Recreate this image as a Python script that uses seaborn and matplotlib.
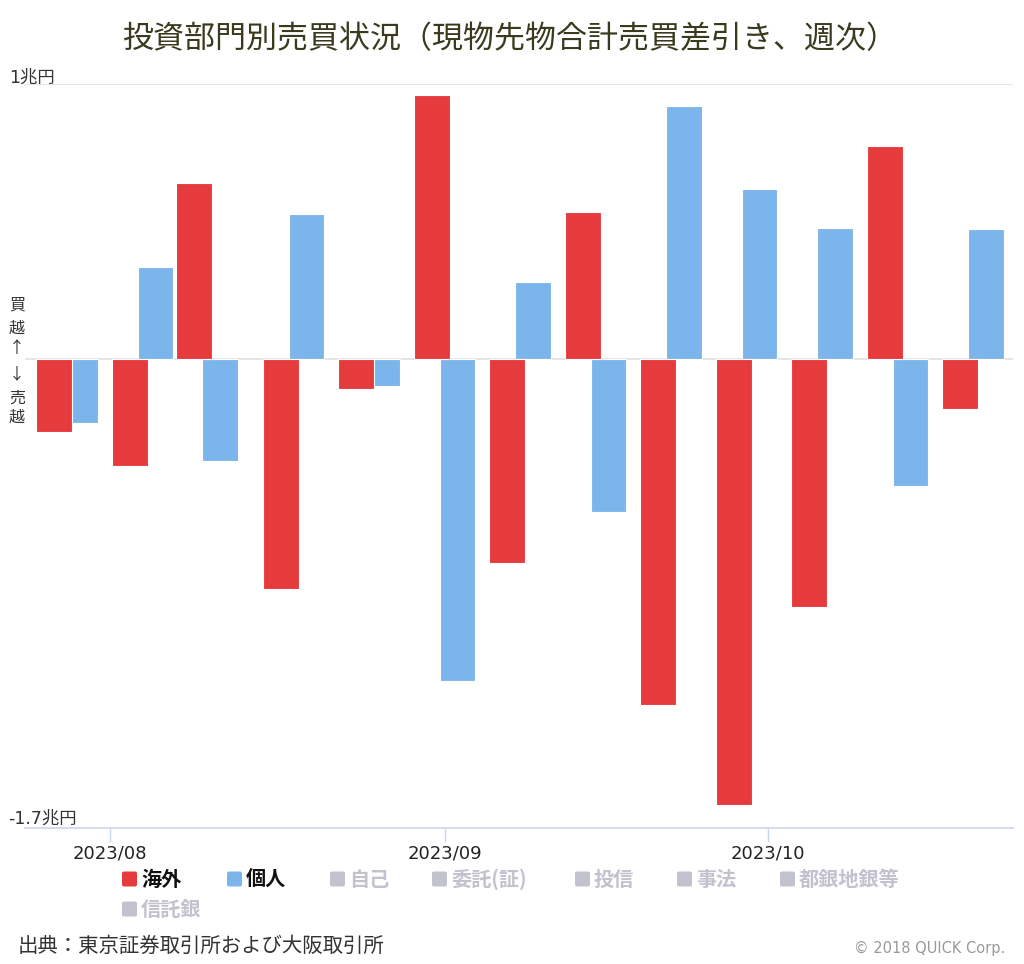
import numpy as np
import pandas as pd
import matplotlib
matplotlib.use("Agg")
import matplotlib.pyplot as plt
import matplotlib.dates as mdates
from matplotlib.patches import FancyBboxPatch
import seaborn as sns

sns.set_theme(style="white")
plt.rcParams['font.family'] = ['Noto Sans CJK JP', 'DejaVu Sans']

# 週次（週末日付）、単位：兆円
weeks = ['2023-07-28', '2023-08-04', '2023-08-10', '2023-08-18', '2023-08-25',
         '2023-09-01', '2023-09-08', '2023-09-15', '2023-09-22', '2023-09-29',
         '2023-10-06', '2023-10-13', '2023-10-20']
overseas = [-0.263, -0.388, 0.641, -0.833, -0.109, 0.960, -0.739,
            0.535, -1.254, -1.617, -0.898, 0.775, -0.180]
individual = [-0.232, 0.337, -0.368, 0.528, -0.096, -1.167, 0.281,
              -0.554, 0.920, 0.617, 0.477, -0.459, 0.474]

series_names = ['海外', '個人']
series_colors = ['#e63b3d', '#7cb5ec']
hidden_names = ['自己', '委託(証)', '投信', '事法', '都銀地銀等', '信託銀']

title = '投資部門別売買状況（現物先物合計売買差引き、週次）'
source = '出典：東京証券取引所および大阪取引所'
credit = '© 2018 QUICK Corp.'

W, H = 1024, 964
latin_first = ['DejaVu Sans', 'Noto Sans CJK JP']


def fx(x):
    return x / W


def fy(y):
    return 1 - y / H


# ---- data frame (two series, shifted a bit around the week date) ----
t = mdates.date2num(pd.to_datetime(weeks))
shift = 1.2  # days
df = pd.concat([
    pd.DataFrame({'x': t - shift, 'value': overseas, 'series': '海外'}),
    pd.DataFrame({'x': t + shift, 'value': individual, 'series': '個人'}),
], ignore_index=True)

fig = plt.figure(figsize=(W / 100, H / 100), dpi=100)
ax = fig.add_axes([fx(25), fy(827.7), fx(1013) - fx(25), fy(84) - fy(827.7)])

min_gap = np.min(np.diff(np.unique(df['x'])))
sns.barplot(data=df, x='x', y='value', hue='series', hue_order=['個人', '海外'],
            palette=dict(zip(series_names, series_colors)), native_scale=True,
            dodge=False, orient='x', width=3.33 / min_gap, errorbar=None,
            saturation=1, legend=False, edgecolor='white', linewidth=0.8, ax=ax)

ax.set_xlim(t[0] - 3.9, t[-1] + 3.7)
ax.set_ylim(-1.7, 1.0)
ax.set_xlabel('')
ax.set_ylabel('')

# axes styling
for s in ['top', 'left', 'right']:
    ax.spines[s].set_visible(False)
ax.spines['bottom'].set_color('#ccd6eb')
ax.spines['bottom'].set_linewidth(1.2)
ax.set_axisbelow(True)
ax.set_yticks([0, 1.0])
ax.yaxis.grid(True, color='#e3e3e3', linewidth=1.3)
ax.tick_params(axis='y', length=0, labelleft=False)

ax.xaxis.set_major_locator(mdates.MonthLocator())
ax.xaxis.set_major_formatter(mdates.DateFormatter('%Y/%m'))
ax.tick_params(axis='x', length=10, width=1, color='#ccd6eb', bottom=True,
               labelsize=13, labelcolor='#222222', pad=2)
for lab in ax.get_xticklabels():
    lab.set_family(latin_first)

# y-axis end labels
fig.text(fx(9), fy(78), '1兆円', fontsize=12.5, color='#333333', va='center', ha='left',
         family=latin_first)
fig.text(fx(8), fy(819), '-1.7兆円', fontsize=12.5, color='#333333', va='center', ha='left',
         family=latin_first)

# 買越 / 売越 marker
for ch, yy in zip(['買', '越', '↑', '↓', '売', '越'], [305, 328, 349, 374, 398, 417]):
    fig.text(fx(17), fy(yy), ch, fontsize=11.5, color='#333333', ha='center', va='center')

# title
fig.text(fx(510), fy(40), title, fontsize=22.3, color='#3a3a1e', ha='center', va='center')

# legend (manual: two active series + hidden items)
legend_items = [
    (series_names[0], series_colors[0], '#111111', 122, 879),
    (series_names[1], series_colors[1], '#111111', 227, 879),
]
hidden_pos = [(330, 879), (432, 879), (575, 879), (677, 879), (780, 879), (122, 909)]
for name, (lx, ly) in zip(hidden_names, hidden_pos):
    legend_items.append((name, '#c2c2ce', '#c2c2ce', lx, ly))

for name, sq_color, txt_color, lx, ly in legend_items:
    fig.patches.append(FancyBboxPatch((fx(lx), fy(ly + 7.5)), fx(15), 15 / H,
                                      boxstyle='round,pad=0,rounding_size=0.002',
                                      transform=fig.transFigure, facecolor=sq_color,
                                      edgecolor='none'))
    fig.text(fx(lx + 19), fy(ly), name, fontsize=14.5, fontweight='bold',
             color=txt_color, ha='left', va='center')

# footer
fig.text(fx(18), fy(946), source, fontsize=14.7, color='#333333', ha='left', va='center')
fig.text(fx(1005), fy(948), credit, fontsize=10.5, color='#999999', ha='right', va='center',
         family=latin_first)

fig.savefig('out.png', dpi=100)
